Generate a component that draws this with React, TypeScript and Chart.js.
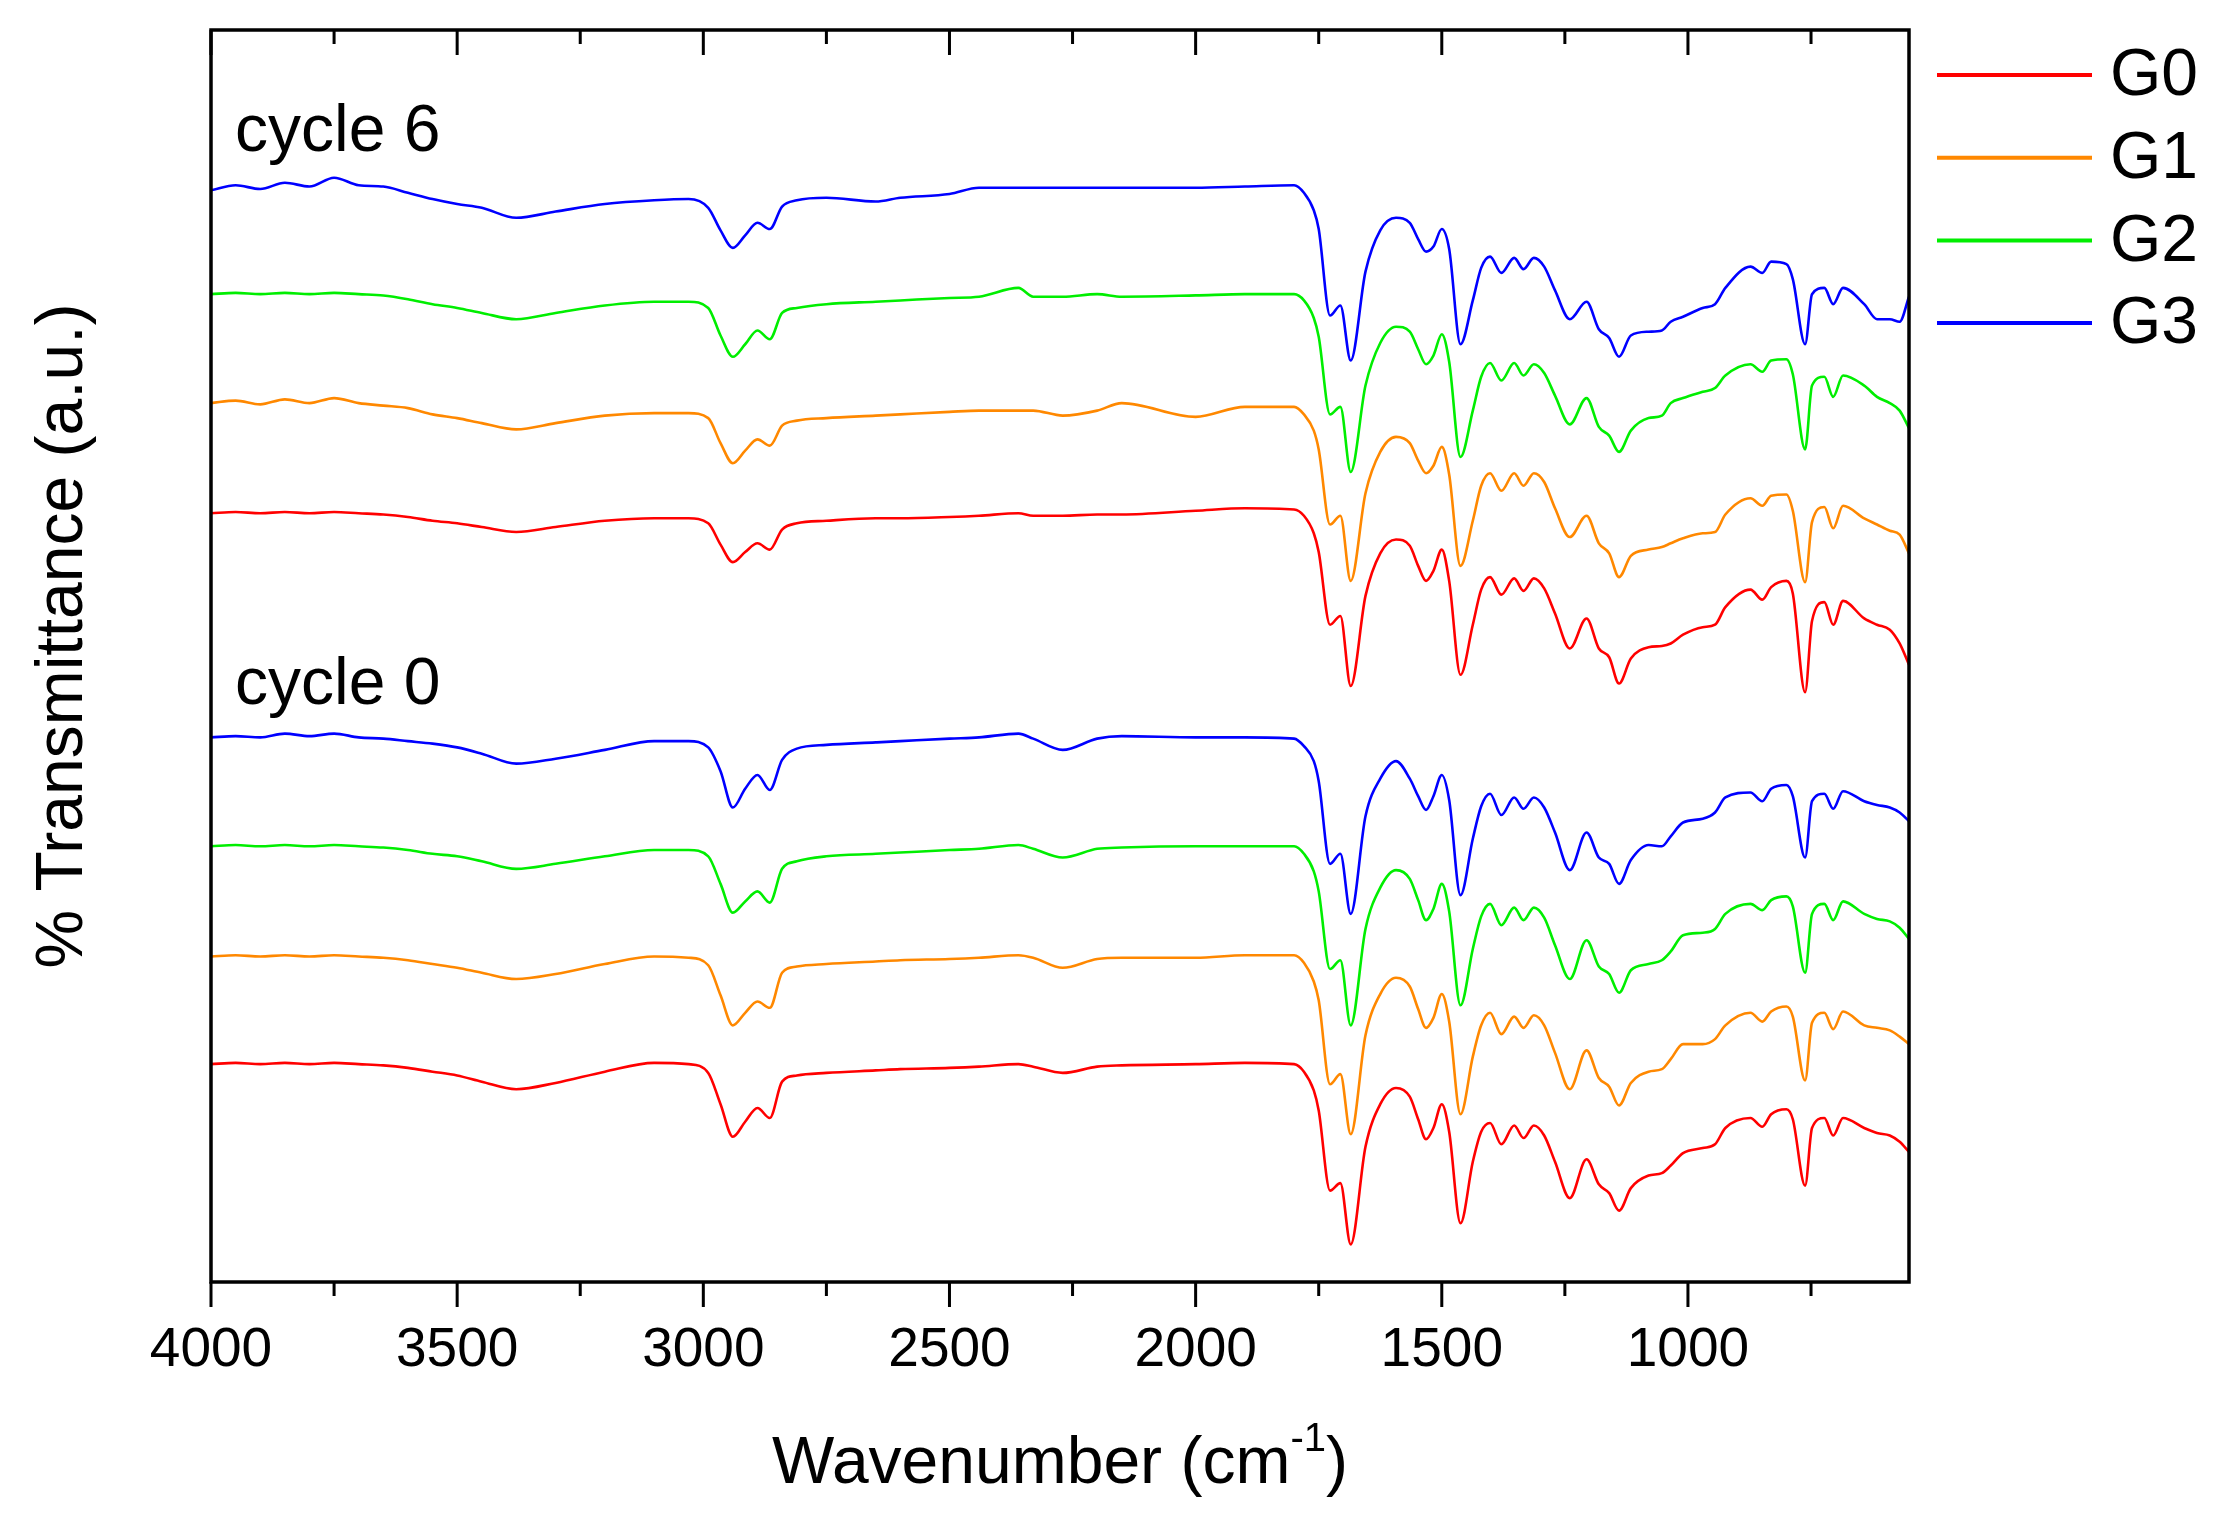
import { useEffect, useRef } from 'react'
import Chart from 'chart.js/auto'

// shared wavenumber grid (cm-1), high to low
const wavenumber = [
  4000, 3950, 3900, 3850, 3800, 3750, 3700, 3650, 3600, 3550, 3500, 3450, 3380, 3300, 3200, 3100,
  3030, 2990, 2965, 2940, 2915, 2890, 2865, 2840, 2810, 2750, 2650, 2600, 2500, 2440, 2360, 2330,
  2270, 2200, 2150, 2000, 1900, 1800, 1780, 1760, 1750, 1727, 1706, 1685, 1655, 1625, 1593, 1565,
  1548, 1532, 1517, 1500, 1485, 1462, 1437, 1420, 1402, 1379, 1353, 1334, 1313, 1292, 1270, 1240,
  1206, 1181, 1160, 1140, 1116, 1080, 1053, 1035, 1010, 970, 945, 924, 873, 849, 831, 800,
  787, 762, 748, 723, 705, 685, 642, 616, 590, 570, 551,
]

// cycle 6 traces (upper group)
const g3Cycle6 = [
  87.2, 87.6, 87.3, 87.8, 87.5, 88.2, 87.6, 87.5, 87.0, 86.5, 86.1, 85.8, 85.0, 85.5, 86.1, 86.4,
  86.5, 85.8, 84.0, 82.6, 83.6, 84.6, 84.1, 85.9, 86.4, 86.6, 86.3, 86.6, 86.9, 87.4, 87.4, 87.4,
  87.4, 87.4, 87.4, 87.4, 87.5, 87.6, 87.0, 85.6, 84.1, 77.2, 78.0, 73.6, 80.7, 84.0, 85.0, 84.6,
  83.3, 82.3, 82.7, 84.1, 82.5, 74.9, 78.4, 81.0, 81.9, 80.6, 81.8, 80.9, 81.8, 81.1, 79.2, 76.9,
  78.3, 76.1, 75.4, 73.9, 75.6, 75.9, 76.0, 76.7, 77.1, 77.8, 78.1, 79.4, 81.1, 80.6, 81.5, 81.3,
  80.1, 74.9, 78.9, 79.4, 78.1, 79.4, 78.1, 76.9, 76.9, 76.7, 78.7,
]
const g2Cycle6 = [
  78.9, 79.0, 78.9, 79.0, 78.9, 79.0, 78.9, 78.8, 78.5, 78.1, 77.8, 77.4, 76.9, 77.4, 78.0, 78.3,
  78.3, 77.8, 75.6, 73.9, 74.9, 76.0, 75.3, 77.4, 77.8, 78.1, 78.3, 78.4, 78.6, 78.7, 79.4, 78.7,
  78.7, 78.9, 78.7, 78.8, 78.9, 78.9, 78.4, 77.0, 75.5, 69.3, 69.9, 64.7, 71.6, 75.0, 76.3, 75.9,
  74.5, 73.3, 74.0, 75.7, 73.5, 65.9, 69.6, 72.3, 73.4, 72.0, 73.4, 72.4, 73.3, 72.6, 70.8, 68.5,
  70.6, 68.3, 67.6, 66.3, 68.0, 69.0, 69.2, 70.2, 70.6, 71.1, 71.4, 72.4, 73.3, 72.7, 73.6, 73.7,
  72.5, 66.5, 71.6, 72.3, 70.7, 72.4, 71.6, 70.7, 70.2, 69.6, 68.2,
]
const g1Cycle6 = [
  70.2, 70.4, 70.1, 70.5, 70.2, 70.6, 70.2, 70.0, 69.8, 69.3, 69.0, 68.6, 68.1, 68.6, 69.2, 69.4,
  69.4, 69.0, 67.0, 65.4, 66.4, 67.3, 66.8, 68.4, 68.8, 69.0, 69.2, 69.3, 69.5, 69.6, 69.6, 69.6,
  69.2, 69.6, 70.2, 69.1, 69.9, 69.9, 69.3, 68.0, 66.5, 60.5, 61.2, 56.0, 63.0, 66.3, 67.5, 67.0,
  65.6, 64.6, 65.2, 66.7, 64.5, 57.2, 60.8, 63.6, 64.6, 63.2, 64.6, 63.6, 64.6, 63.9, 61.8, 59.5,
  61.2, 59.0, 58.2, 56.3, 58.0, 58.5, 58.7, 59.0, 59.4, 59.8, 59.9, 61.3, 62.6, 62.0, 62.8, 62.9,
  61.6, 55.9, 60.7, 61.9, 60.2, 62.0, 61.0, 60.5, 60.0, 59.7, 58.2,
]
const g0Cycle6 = [
  61.4, 61.5, 61.4, 61.5, 61.4, 61.5, 61.4, 61.3, 61.1, 60.8, 60.6, 60.3, 59.9, 60.3, 60.8, 61.0,
  61.0, 60.6, 58.9, 57.5, 58.3, 59.0, 58.5, 60.1, 60.6, 60.8, 61.0, 61.0, 61.1, 61.2, 61.4, 61.2,
  61.2, 61.3, 61.3, 61.6, 61.8, 61.7, 61.2, 59.8, 58.3, 52.5, 53.2, 47.6, 54.8, 58.2, 59.3, 58.8,
  57.2, 56.0, 56.8, 58.5, 56.0, 48.5, 52.5, 55.3, 56.3, 54.9, 56.2, 55.2, 56.2, 55.4, 53.4, 50.6,
  53.0, 50.6, 49.9, 47.8, 49.8, 50.7, 50.8, 51.0, 51.7, 52.3, 52.5, 53.9, 55.3, 54.5, 55.5, 56.0,
  55.0, 47.1, 52.8, 54.3, 52.5, 54.4, 53.0, 52.5, 52.1, 51.0, 49.3,
]

// cycle 0 traces (lower group)
const g3Cycle0 = [
  43.5, 43.6, 43.5, 43.8, 43.6, 43.8, 43.5, 43.4, 43.2, 43.0, 42.7, 42.2, 41.4, 41.8, 42.5, 43.2,
  43.2, 42.7, 40.8, 37.9, 39.4, 40.5, 39.3, 41.7, 42.6, 42.9, 43.1, 43.2, 43.4, 43.5, 43.8, 43.4,
  42.5, 43.4, 43.6, 43.5, 43.5, 43.4, 42.8, 41.6, 40.0, 33.4, 34.2, 29.4, 37.2, 40.2, 41.6, 40.2,
  38.8, 37.7, 38.8, 40.5, 38.5, 30.9, 35.4, 38.0, 39.0, 37.3, 38.7, 37.8, 38.7, 37.9, 35.9, 32.9,
  35.9, 33.9, 33.4, 31.8, 33.7, 34.9, 34.8, 35.6, 36.7, 37.0, 37.5, 38.7, 39.1, 38.4, 39.4, 39.7,
  38.8, 33.9, 38.4, 39.0, 37.8, 39.2, 38.4, 38.1, 37.9, 37.5, 36.8,
]
const g2Cycle0 = [
  34.8, 34.9, 34.8, 34.9, 34.8, 34.9, 34.8, 34.7, 34.5, 34.2, 34.0, 33.6, 33.0, 33.4, 34.0, 34.5,
  34.5, 34.0, 31.8, 29.5, 30.4, 31.2, 30.3, 33.0, 33.6, 34.0, 34.2, 34.3, 34.5, 34.6, 34.9, 34.6,
  33.9, 34.6, 34.7, 34.8, 34.8, 34.8, 34.2, 32.8, 31.2, 25.0, 25.7, 20.5, 28.2, 31.5, 32.9, 32.2,
  30.5, 28.9, 29.8, 31.8, 29.6, 22.1, 26.6, 29.2, 30.2, 28.5, 29.9, 28.9, 29.9, 29.1, 26.9, 24.2,
  27.3, 25.2, 24.6, 23.1, 24.9, 25.4, 25.7, 26.4, 27.7, 27.9, 28.2, 29.4, 30.2, 29.7, 30.5, 30.8,
  30.0, 24.7, 29.4, 30.2, 28.9, 30.4, 29.4, 29.0, 28.8, 28.3, 27.4,
]
const g1Cycle0 = [
  26.0, 26.1, 26.0, 26.1, 26.0, 26.1, 26.0, 25.9, 25.7, 25.4, 25.1, 24.7, 24.2, 24.6, 25.4, 26.0,
  25.9, 25.3, 22.9, 20.5, 21.5, 22.4, 21.9, 24.7, 25.2, 25.4, 25.6, 25.7, 25.8, 25.9, 26.1, 25.9,
  25.1, 25.8, 25.9, 25.9, 26.1, 26.1, 25.5, 24.0, 22.5, 15.8, 16.6, 11.8, 19.7, 23.0, 24.3, 23.6,
  21.8, 20.3, 21.1, 23.0, 20.8, 13.4, 18.0, 20.5, 21.5, 19.8, 21.2, 20.3, 21.3, 20.5, 18.3, 15.4,
  18.5, 16.3, 15.6, 14.1, 15.9, 16.8, 17.0, 17.8, 19.0, 19.0, 19.4, 20.5, 21.5, 20.8, 21.6, 22.0,
  21.2, 16.1, 20.7, 21.5, 20.2, 21.6, 20.5, 20.3, 20.1, 19.6, 19.0,
]
const g0Cycle0 = [
  17.4, 17.5, 17.4, 17.5, 17.4, 17.5, 17.4, 17.3, 17.1, 16.8, 16.5, 16.0, 15.4, 15.9, 16.8, 17.5,
  17.4, 16.7, 14.2, 11.6, 12.8, 13.9, 13.1, 16.0, 16.5, 16.7, 16.9, 17.0, 17.1, 17.2, 17.4, 17.2,
  16.7, 17.2, 17.3, 17.4, 17.5, 17.4, 16.8, 15.3, 13.7, 7.3, 7.9, 3.0, 10.8, 14.2, 15.5, 14.8,
  13.0, 11.4, 12.3, 14.2, 12.0, 4.7, 9.6, 12.0, 12.7, 11.0, 12.5, 11.5, 12.5, 11.7, 9.6, 6.7,
  9.8, 7.8, 7.1, 5.7, 7.5, 8.5, 8.7, 9.3, 10.3, 10.7, 11.0, 12.3, 13.1, 12.4, 13.4, 13.8,
  13.0, 7.7, 12.3, 13.1, 11.7, 13.1, 12.3, 11.9, 11.7, 11.2, 10.4,
]

const seriesLabels = ['G0', 'G1', 'G2', 'G3']
const seriesColors = ['#ff0000', '#ff8800', '#00ee00', '#0000ff']
const cycle0Series = [g0Cycle0, g1Cycle0, g2Cycle0, g3Cycle0]
const cycle6Series = [g0Cycle6, g1Cycle6, g2Cycle6, g3Cycle6]

const majorTicks = [4000, 3500, 3000, 2500, 2000, 1500, 1000]
const minorTicks = [3750, 3250, 2750, 2250, 1750, 1250, 750]

const FONT = '"Liberation Sans", Arial, sans-serif'

const framePlugin = {
  id: 'frame',
  afterDraw(chart: any) {
    const { ctx, chartArea: a, scales } = chart
    const xs = scales.x
    const ys = scales.y
    ctx.save()
    ctx.strokeStyle = '#000'
    ctx.lineWidth = 3.5
    ctx.strokeRect(a.left, a.top, a.right - a.left, a.bottom - a.top)

    ctx.lineWidth = 3
    const tick = (v: number, len: number) => {
      const px = xs.getPixelForValue(v)
      ctx.beginPath()
      ctx.moveTo(px, a.bottom)
      ctx.lineTo(px, a.bottom + len)
      ctx.moveTo(px, a.top)
      ctx.lineTo(px, a.top + len)
      ctx.stroke()
    }
    majorTicks.forEach((v) => tick(v, 25))
    minorTicks.forEach((v) => tick(v, 14))

    // cycle annotations
    ctx.fillStyle = '#000'
    ctx.font = `66px ${FONT}`
    ctx.textAlign = 'left'
    ctx.textBaseline = 'alphabetic'
    ctx.fillText('cycle 6', xs.getPixelForValue(3951), ys.getPixelForValue(90.3))
    ctx.fillText('cycle 0', xs.getPixelForValue(3951), ys.getPixelForValue(46.2))

    // y title
    ctx.save()
    ctx.translate(64, (a.top + a.bottom) / 2 - 20)
    ctx.rotate(-Math.PI / 2)
    ctx.textAlign = 'center'
    ctx.textBaseline = 'middle'
    ctx.fillText('% Transmittance (a.u.)', 0, 0)
    ctx.restore()

    // x title with superscript
    const main = 'Wavenumber (cm'
    const sup = '-1'
    const close = ')'
    ctx.font = `66px ${FONT}`
    const wMain = ctx.measureText(main).width
    const wClose = ctx.measureText(close).width
    ctx.font = `40px ${FONT}`
    const wSup = ctx.measureText(sup).width
    const total = wMain + wSup + wClose
    let x = (a.left + a.right) / 2 - total / 2
    const base = 1483
    ctx.textAlign = 'left'
    ctx.font = `66px ${FONT}`
    ctx.fillText(main, x, base)
    x += wMain
    ctx.font = `40px ${FONT}`
    ctx.fillText(sup, x, base - 32)
    x += wSup
    ctx.font = `66px ${FONT}`
    ctx.fillText(close, x, base)

    // legend
    ctx.lineWidth = 4
    ctx.textBaseline = 'middle'
    seriesLabels.forEach((label, i) => {
      const y = 75 + i * 82.7
      ctx.strokeStyle = seriesColors[i]
      ctx.beginPath()
      ctx.moveTo(1937, y)
      ctx.lineTo(2092, y)
      ctx.stroke()
      ctx.fillStyle = '#000'
      ctx.fillText(label, 2110, y + 2)
    })
    ctx.restore()
  },
}

export default function App() {
  const canvasRef = useRef<HTMLCanvasElement>(null)
  const chartRef = useRef<Chart | null>(null)

  useEffect(() => {
    document.body.style.margin = '0'
    if (!canvasRef.current) return
    if (chartRef.current) chartRef.current.destroy()

    const datasets: any[] = []
    seriesLabels.forEach((label, i) => {
      ;[cycle6Series[i], cycle0Series[i]].forEach((values) => {
        datasets.push({
          label,
          data: wavenumber.map((w, k) => ({ x: w, y: values[k] })),
          borderColor: seriesColors[i],
          borderWidth: 2.6,
          pointRadius: 0,
          cubicInterpolationMode: 'monotone',
          fill: false,
        })
      })
    })

    chartRef.current = new Chart(canvasRef.current, {
      type: 'line',
      data: { datasets },
      options: {
        animation: false,
        responsive: false,
        devicePixelRatio: 1,
        layout: { padding: { left: 0, top: 30, right: 310, bottom: 0 } },
        plugins: { legend: { display: false }, tooltip: { enabled: false } },
        scales: {
          x: {
            type: 'linear',
            reverse: true,
            min: 551,
            max: 4000,
            grid: { display: false, drawTicks: false },
            border: { display: false },
            afterBuildTicks: (scale: any) => {
              scale.ticks = majorTicks.map((v) => ({ value: v }))
            },
            afterFit: (scale: any) => {
              scale.height = 249
            },
            ticks: {
              autoSkip: false,
              maxRotation: 0,
              padding: 36,
              color: '#000',
              font: { family: FONT, size: 55 },
              callback: (value: any) => String(value),
            },
          },
          y: {
            min: 0,
            max: 100,
            grid: { display: false, drawTicks: false },
            border: { display: false },
            ticks: { display: false },
            afterFit: (scale: any) => {
              scale.width = 211
            },
          },
        },
      },
      plugins: [framePlugin],
    })

    return () => {
      if (chartRef.current) chartRef.current.destroy()
      chartRef.current = null
    }
  }, [])

  return <canvas ref={canvasRef} width={2219} height={1531} style={{ display: 'block' }} />
}
